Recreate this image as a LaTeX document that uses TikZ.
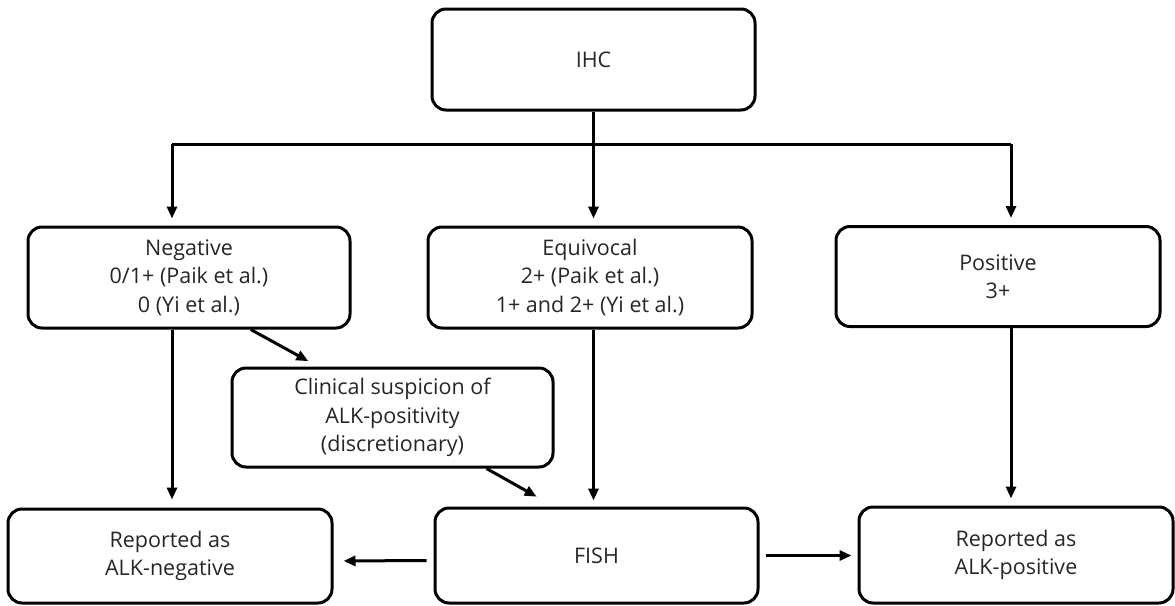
\documentclass[tikz,border=0pt]{standalone}
\usepackage{fontspec}
\setmainfont{Open Sans}
\usetikzlibrary{arrows.meta,calc}
\begin{document}
\begin{tikzpicture}[x=1pt,y=-1pt,line width=3pt,>={Triangle[length=12pt,width=10pt]},
	box/.style={rectangle,draw,rounded corners=14pt,align=center,text=black!85,inner sep=0pt,font=\fontsize{21.5}{28.5}\selectfont}]
	\useasboundingbox (0,0) rectangle (1175,605);
	\node[box,minimum width=323pt,minimum height=101pt]	(IHC)		at (593.5,59.5)	{IHC};
	\node[box,minimum width=322pt,minimum height=101pt]	(neg)		at (189,277.5)	{Negative\\0/1+ (Paik et al.)\\0 (Yi et al.)};
	\node[box,minimum width=324pt,minimum height=101pt]	(equ)		at (590,277.5)	{Equivocal\\2+ (Paik et al.)\\1+ and 2+ (Yi et al.)};
	\node[box,minimum width=324pt,minimum height=100pt]	(pos)		at (998,276.5)	{Positive\\3+};
	\node[box,minimum width=321pt,minimum height=99pt]	(clin)		at (392.5,417.5)	{Clinical suspicion of\\ALK-positivity\\(discretionary)};
	\node[box,minimum width=324pt,minimum height=94pt]	(repneg)	at (170,556)	{Reported as\\ALK-negative};
	\node[box,minimum width=323pt,minimum height=95pt]	(fish)		at (596.5,555.5)	{FISH};
	\node[box,minimum width=314pt,minimum height=96pt]	(reppos)	at (1016,555)	{Reported as\\ALK-positive};
	\coordinate (busL) at (172,144);
	\coordinate (busR) at (1011,144);
	\draw (busL) -- (busR);
	\path[->]
	(IHC.south)	edge[shorten >=7pt]	(IHC.south |- equ.north)
	(busL)		edge[shorten >=7pt]	(busL |- neg.north)
	(busR)		edge[shorten >=7pt]	(busR |- pos.north)
	(busL |- neg.south)	edge[shorten >=8pt]	(busL |- repneg.north)
	(busR |- pos.south)	edge[shorten >=7pt]	(busR |- reppos.north)
	(IHC.south |- equ.south)	edge[shorten >=6pt]	(IHC.south |- fish.north)
	($(neg.south west)!0.69!(neg.south east)$)	edge[shorten >=11pt]	($(clin.north west)!0.27!(clin.north east)$)
	($(clin.south west)!0.79!(clin.south east)$)	edge[shorten >=20pt]	($(fish.north west)!0.37!(fish.north east)$)
	([yshift=-5pt]fish.west)	edge[shorten <=7pt,shorten >=10pt]	([yshift=-5pt]repneg.east)
	(fish.east)	edge[shorten <=6pt,shorten >=6pt]	(fish.east -| reppos.west)
	;
\end{tikzpicture}
\end{document}
